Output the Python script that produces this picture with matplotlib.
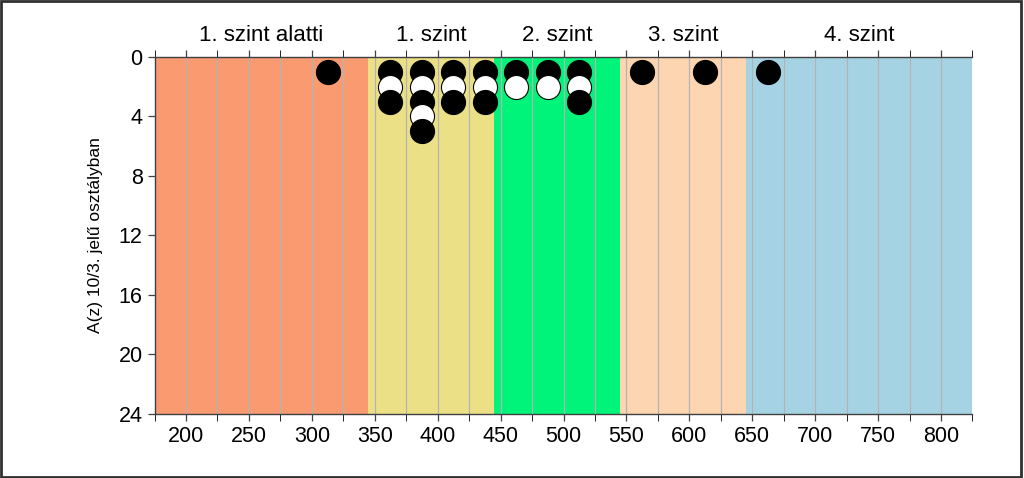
import numpy as np
import matplotlib
matplotlib.use("Agg")
import matplotlib.pyplot as plt

plt.rcParams["font.family"] = ["Liberation Sans", "DejaVu Sans"]

# level bands (score ranges) and their names
band_edges = [175, 345, 445, 545, 645, 825]
band_names = ["1. szint alatti", "1. szint", "2. szint", "3. szint", "4. szint"]
band_colors = ["#FA9A70", "#EBE086", "#00F47A", "#FDD6B1", "#A6D3E3"]

# dot columns: bin centre and number of students in that bin
dot_x = [312.5, 362.5, 387.5, 412.5, 437.5, 462.5, 487.5, 512.5, 562.5, 612.5, 662.5]
dot_n = [1, 3, 5, 3, 3, 2, 2, 3, 1, 1, 1]

fig = plt.figure(figsize=(10.24, 4.78), dpi=100)
ax = fig.add_axes([0.1509, 0.1339, 0.7988, 0.7469])

for i in range(len(band_names)):
    ax.axvspan(band_edges[i], band_edges[i + 1], color=band_colors[i], lw=0, zorder=0)
    ax.text((band_edges[i] + band_edges[i + 1]) / 2, 1.03, band_names[i],
            transform=ax.get_xaxis_transform(), ha="center", va="bottom", fontsize=16)

for gx in np.arange(200, 825, 25):
    ax.axvline(gx, color="#B4B4B4", lw=0.9, zorder=1)

# stacked dots, drawn top to bottom so each one overlaps the one above
for x, n in zip(dot_x, dot_n):
    for k in range(1, n + 1):
        fc = "black" if k % 2 == 1 else "white"
        ax.scatter([x], [k], s=300, facecolor=fc, edgecolor="black", lw=0.8,
                   zorder=3 + k, clip_on=False)

ax.set_xlim(175, 825)
ax.set_ylim(24, 0)
ax.set_xticks(np.arange(200, 801, 50))
ax.set_xticks(np.arange(175, 826, 25), minor=True)
ax.set_yticks(np.arange(0, 25, 4))
ax.tick_params(axis="both", labelsize=15.5, length=5, width=0.9, color="#404040")
ax.tick_params(axis="x", which="both", top=True, direction="out", length=5)
ax.set_ylabel("A(z) 10/3. jelű osztályban", fontsize=12.5, labelpad=11)

ax.spines["right"].set_visible(False)
for side in ["left", "top", "bottom"]:
    ax.spines[side].set_color("#404040")
    ax.spines[side].set_linewidth(1.0)

fig.patches.append(plt.Rectangle((0.001, 0.002), 0.996, 0.996, transform=fig.transFigure,
                                 fill=False, edgecolor="#303030", lw=2))

fig.savefig("out.png", dpi=100)
